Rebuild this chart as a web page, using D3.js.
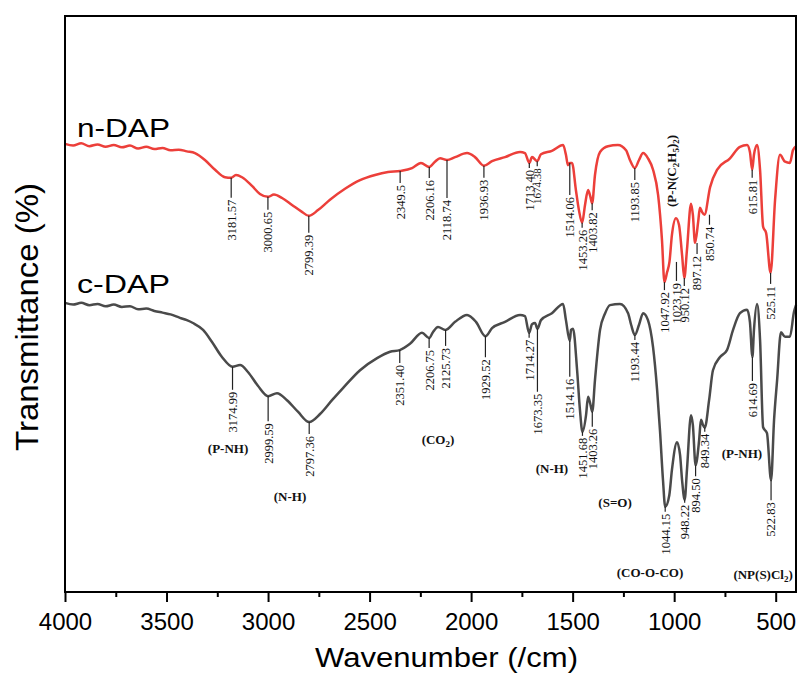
<!DOCTYPE html>
<html>
<head>
<meta charset="utf-8">
<script src="https://cdn.jsdelivr.net/npm/d3@7"></script>
<style>
  body { margin: 0; background: #fff; }
</style>
</head>
<body>
<svg id="chart" width="798" height="676"></svg>
<script>
// spectra: [wavenumber, transmittance (arb.)]
const nDAP = [
  [4000,77.8],[3960,77.5],[3920,77.9],[3880,77.4],[3840,77.7],[3800,77.3],[3760,77.6],[3720,77.2],
  [3680,77.5],[3640,77.0],[3600,77.3],[3560,76.9],[3520,77.1],[3480,76.7],[3440,76.8],[3400,76.5],
  [3360,76.2],[3311,75.0],[3261,73.3],[3212,72.0],[3181.57,71.9],[3158,72.4],[3128,72.0],[3079,70.5],
  [3040,69.1],[3000.65,68.6],[2971,69.0],[2931,68.4],[2882,67.2],[2833,66.0],[2799.39,65.3],[2754,66.3],
  [2695,68.1],[2621,70.0],[2547,71.5],[2473,72.4],[2409,72.9],[2349.5,73.1],[2291,73.6],[2247,74.5],
  [2206.16,73.8],[2178,74.7],[2153,75.3],[2118.74,75.0],[2079,75.5],[2020,76.2],[1981,75.5],[1936.93,74.0],
  [1897,74.8],[1833,75.5],[1759,76.4],[1735,76.2],[1713.40,74.5],[1700,75.5],[1674.38,74.8],[1656,76.0],
  [1602,76.6],[1547,77.6],[1533,75.9],[1523,74.1],[1514.06,74.5],[1503,74.5],[1484,69.8],[1469,66.3],
  [1453.26,64.1],[1439,67.2],[1424,69.8],[1414,68.8],[1403.82,67.5],[1390,72.4],[1365,76.4],[1326,77.4],
  [1277,77.6],[1237,76.7],[1218,75.0],[1193.85,73.6],[1173,75.0],[1153,76.2],[1129,75.3],[1104,73.3],
  [1079,68.9],[1060,61.1],[1047.92,53.8],[1035,55.5],[1023.19,57.3],[1011,62.0],[991,64.9],[976,63.7],
  [961,58.5],[950.12,54.5],[937,59.4],[917,67.4],[908,65.5],[897.12,60.6],[882,64.2],[873,66.7],
  [863,66.0],[850.74,65.5],[823,70.3],[789,73.3],[725,75.3],[676,77.3],[641,77.6],[627,76.4],
  [615.81,73.3],[607,75.9],[592,77.6],[577,73.3],[562,63.4],[547,62.3],[525.11,55.4],[503,68.1],
  [479,75.9],[454,74.7],[430,74.5],[415,76.7],[400,77.4]
];
const cDAP = [
  [4000,50.2],[3960,49.9],[3920,50.2],[3880,49.8],[3840,50.0],[3800,49.6],[3760,49.9],[3720,49.5],
  [3680,49.6],[3640,49.1],[3600,49.2],[3560,48.8],[3520,48.5],[3480,48.2],[3434,47.6],[3400,47.2],
  [3370,46.7],[3320,45.5],[3276,43.4],[3227,40.8],[3174.99,39.1],[3138,39.4],[3099,38.2],[3050,35.8],
  [2999.59,34.0],[2956,34.5],[2907,33.3],[2853,31.3],[2797.36,29.5],[2744,30.9],[2685,33.3],[2631,35.4],
  [2547,38.5],[2463,40.6],[2399,41.7],[2351.40,42.0],[2301,43.1],[2242,45.0],[2206.75,44.1],[2188,45.1],
  [2163,46.0],[2125.73,45.5],[2079,46.9],[2020,48.1],[1976,46.9],[1929.52,44.4],[1897,45.8],[1833,46.9],
  [1759,48.1],[1735,47.9],[1714.27,45.0],[1700,46.5],[1685,46.7],[1673.35,45.7],[1656,47.2],[1602,48.4],
  [1547,50.0],[1533,47.2],[1514.16,43.6],[1508,45.5],[1498,45.7],[1478,38.5],[1464,31.6],[1451.68,27.8],
  [1434,30.7],[1424,33.9],[1414,32.8],[1403.26,31.3],[1390,36.8],[1365,45.5],[1341,48.3],[1316,49.8],
  [1267,50.0],[1227,48.4],[1212,46.4],[1193.44,44.6],[1173,46.4],[1153,48.4],[1129,47.2],[1104,42.5],
  [1084,35.1],[1070,28.1],[1055,19.4],[1044.15,14.8],[1024,16.8],[1011,21.2],[986,26.0],[971,23.8],
  [961,19.4],[948.22,16.0],[937,21.2],[917,30.7],[908,29.0],[894.50,22.0],[877,26.4],[868,29.9],
  [858,29.0],[849.34,28.5],[828,33.3],[809,38.5],[774,40.8],[740,42.0],[710,45.5],[676,48.4],
  [641,49.0],[627,46.9],[614.69,40.8],[607,45.5],[592,50.0],[577,43.8],[562,28.6],[543,27.6],
  [522.83,19.4],[508,29.9],[493,36.8],[474,45.1],[454,44.3],[430,44.3],[410,48.6],[400,49.8]
];

// peak labels
const nDapPeaks = ["3181.57","3000.65","2799.39","2349.5","2206.16","2118.74","1936.93","1713.40","1674.38",
  "1514.06","1453.26","1403.82","1193.85","1047.92","1023.19","950.12","897.12","850.74","615.81","525.11"];
const cDapPeaks = ["3174.99","2999.59","2797.36","2351.40","2206.75","2125.73","1929.52","1714.27","1673.35",
  "1514.16","1451.68","1403.26","1193.44","1044.15","948.22","894.50","849.34","614.69","522.83"];

// band assignments: [text, wavenumber, transmittance]
const bands = [
  ["(P-NH)",3197,25.0],["(N-H)",2892,16.5],["(CO_2)",2163,26.4],["(N-H)",1602,21.5],
  ["(S=O)",1291,15.6],["(CO-O-CO)",1119,3.3],["(P-NH)",666,24.1],["(NP(S)Cl_2)",562,3.0]
];
const bandRotated = ["(P-N(C_2H_5)_2)",1011,73.1];

const majorTicks = [4000,3500,3000,2500,2000,1500,1000,500];
const minorTicks = [3750,3250,2750,2250,1750,1250,750];

// layout: leader length (px) from curve to label, and horizontal nudges
const nDapLead = [22,15,19,14,13,40,14,7,7,34,7,9,14,10,21,10,13,12,10,13];
const nDapShift = {"1023.19":7,"897.12":2,"850.74":5};
const cDapLead = [25,27,14,15,12,18,23,7,65,38,6,17,7,7,5,13,6,26,22];

const svg = d3.select('#chart');
const x = d3.scaleLinear().domain([4000, 400]).range([65, 796]);
const y = d3.scaleLinear().domain([0, 100]).range([592, 16]);

const line = d3.line()
  .x(d => x(d[0]))
  .y(d => y(d[1]))
  .curve(d3.curveMonotoneX);

svg.append('path').datum(nDAP)
  .attr('d', line).attr('fill', 'none')
  .attr('stroke', '#ec3f3a').attr('stroke-width', 2.5).attr('stroke-linejoin', 'round');
svg.append('path').datum(cDAP)
  .attr('d', line).attr('fill', 'none')
  .attr('stroke', '#4a4a4a').attr('stroke-width', 2.5).attr('stroke-linejoin', 'round');

// frame
svg.append('rect')
  .attr('x', 65).attr('y', 16).attr('width', 731).attr('height', 576)
  .attr('fill', 'none').attr('stroke', '#000').attr('stroke-width', 2);

// x axis
const gx = svg.append('g').attr('transform', 'translate(0,592)')
  .call(d3.axisBottom(x).tickValues(majorTicks).tickSize(10).tickPadding(11).tickFormat(d3.format('d')));
gx.select('.domain').remove();
gx.selectAll('line').attr('stroke', '#000').attr('stroke-width', 2);
gx.selectAll('text').attr('font-family', 'Liberation Sans, Arial, sans-serif')
  .attr('font-size', 24).attr('fill', '#000');

const gm = svg.append('g').attr('transform', 'translate(0,592)')
  .call(d3.axisBottom(x).tickValues(minorTicks).tickSize(5).tickFormat(''));
gm.select('.domain').remove();
gm.selectAll('line').attr('stroke', '#000').attr('stroke-width', 2);

// titles
svg.append('text')
  .attr('x', 315).attr('y', 667)
  .attr('font-family', 'Liberation Sans, Arial, sans-serif').attr('font-size', 27)
  .attr('textLength', 263).attr('lengthAdjust', 'spacingAndGlyphs')
  .text('Wavenumber (/cm)');
svg.append('text')
  .attr('transform', 'translate(38,317) rotate(-90)')
  .attr('text-anchor', 'middle')
  .attr('font-family', 'Liberation Sans, Arial, sans-serif').attr('font-size', 32)
  .attr('textLength', 268).attr('lengthAdjust', 'spacingAndGlyphs')
  .text('Transmittance (%)');

[['n-DAP', 137], ['c-DAP', 293]].forEach(([t, by]) => {
  svg.append('text')
    .attr('x', 77).attr('y', by)
    .attr('font-family', 'Liberation Sans, Arial, sans-serif').attr('font-size', 25)
    .attr('textLength', 93).attr('lengthAdjust', 'spacingAndGlyphs')
    .text(t);
});

const valueAt = (series, wn) => {
  const i = series.findIndex(d => d[0] <= wn);
  if (i <= 0) return series[Math.max(i, 0)][1];
  const a = series[i - 1], b = series[i];
  if (b[0] === wn) return b[1];
  return a[1] + (b[1] - a[1]) * (a[0] - wn) / (a[0] - b[0]);
};

const annotate = (series, peaks, leads, shifts) => {
  const g = svg.append('g');
  peaks.forEach((p, i) => {
    const wn = +p;
    const cx = x(wn) + (shifts[p] || 0);
    const cy = y(valueAt(series, wn));
    const top = cy + leads[i];
    g.append('line')
      .attr('x1', cx).attr('x2', cx).attr('y1', cy).attr('y2', top - 2)
      .attr('stroke', '#222').attr('stroke-width', 1.2);
    g.append('text')
      .attr('transform', `translate(${cx},${top}) rotate(-90)`)
      .attr('text-anchor', 'end').attr('dy', '0.35em')
      .attr('font-family', 'Liberation Serif, Times New Roman, serif')
      .attr('font-size', p === '1674.38' ? 11 : 12.5).attr('fill', '#111')
      .text(p);
  });
};
annotate(nDAP, nDapPeaks, nDapLead, nDapShift);
annotate(cDAP, cDapPeaks, cDapLead, {});

// band labels with subscripts written as _n
const richText = (sel, str) => {
  let shift = 0;
  str.split(/(_\d)/).filter(s => s).forEach(s => {
    if (s[0] === '_') {
      sel.append('tspan').attr('font-size', 9).attr('dy', 3 - shift).text(s.slice(1));
      shift = 3;
    } else {
      sel.append('tspan').attr('dy', -shift).text(s);
      shift = 0;
    }
  });
};
const gb = svg.append('g')
  .attr('font-family', 'Liberation Serif, Times New Roman, serif')
  .attr('font-weight', 'bold').attr('font-size', 13).attr('fill', '#111');
bands.forEach(([t, wn, v]) => {
  const tx = gb.append('text')
    .attr('x', x(wn)).attr('y', y(v) + 4.5)
    .attr('text-anchor', 'middle');
  richText(tx, t);
});
const rt = gb.append('text')
  .attr('transform', `translate(${x(bandRotated[1]) + 4.5},${y(bandRotated[2])}) rotate(-90)`)
  .attr('text-anchor', 'middle');
richText(rt, bandRotated[0]);
</script>
</body>
</html>
